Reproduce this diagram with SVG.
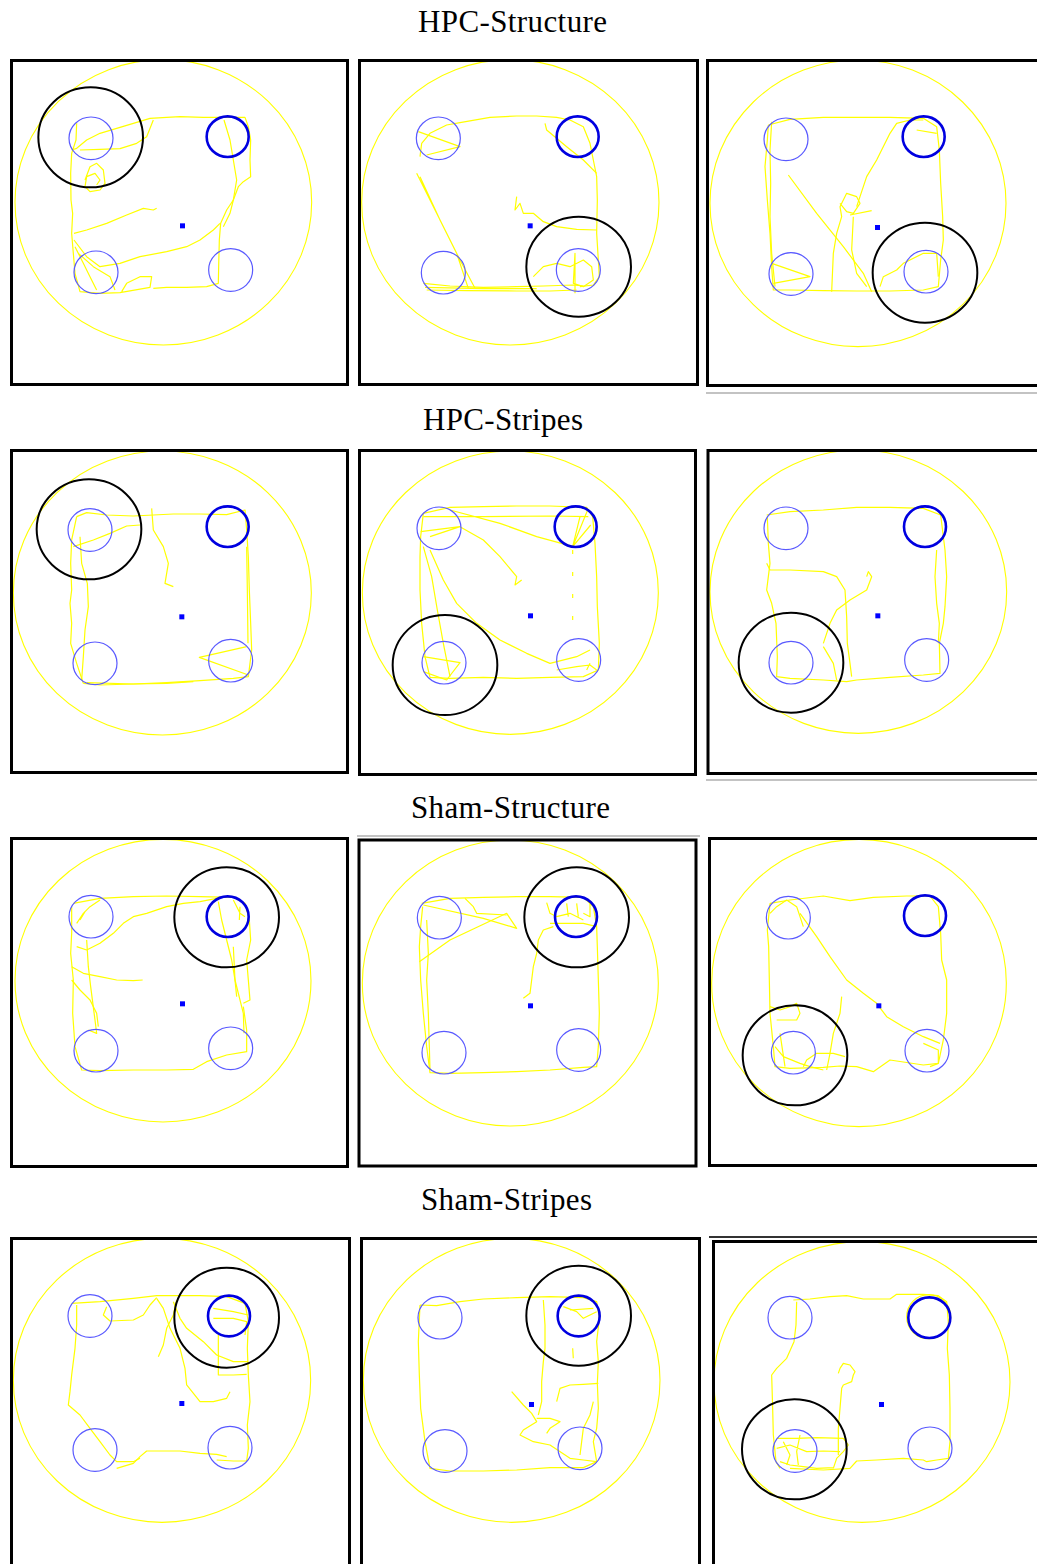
<svg xmlns="http://www.w3.org/2000/svg" width="1037" height="1564" viewBox="0 0 1037 1564">
<style>
.bg{fill:#fff}
.title{font-family:"Liberation Serif","Times New Roman",serif;font-size:31px;fill:#000}
.frame{fill:none;stroke:#000;stroke-width:3}
.edge{fill:none;stroke:#888;stroke-width:1.2}
.edge2{fill:none;stroke:#333;stroke-width:2}
.s *{vector-effect:non-scaling-stroke}
.arena{fill:none;stroke:#ffff00;stroke-width:1.1}
.trk{fill:none;stroke:#ffff00;stroke-width:1.2;stroke-linejoin:round}
.pool{fill:none;stroke:#5a5aff;stroke-width:1.2}
.goal{fill:none;stroke:#0000e0;stroke-width:2.6}
.mark{fill:none;stroke:#000;stroke-width:2}
.ctr{fill:#0000ff}
</style>
<rect class="bg" x="0" y="0" width="1037" height="1564"/>

<g id="titles">
<text class="title" x="418" y="32" textLength="189">HPC-Structure</text>
<text class="title" x="423" y="430" textLength="160">HPC-Stripes</text>
<text class="title" x="411" y="818" textLength="199">Sham-Structure</text>
<text class="title" x="421" y="1210" textLength="171">Sham-Stripes</text>
</g>

<!-- Row 1 -->
<g id="p1">
<g class="s" transform="translate(0,0) scale(0.33333)">
<ellipse class="arena" cx="490" cy="607" rx="445" ry="428"/>
<path class="trk" d="M 215 450 L 230 445 L 260 420 L 300 400 L 350 385 L 400 370 L 450 355 L 500 352 L 540 350 L 610 352 L 680 352 L 735 352 L 745 380 L 752 420 L 750 480 L 752 530 L 730 545 L 715 560 L 700 600 L 680 630 L 662 670 L 658 720 L 656 800 L 655 850 L 620 860 L 560 862 L 500 862 L 460 865"/>
<path class="trk" d="M 230 370 L 228 420 L 215 460 L 212 520 L 213 600 L 218 640 L 215 700 L 220 760 L 225 820 L 240 875 L 300 880 L 360 878 L 450 862 L 455 830 L 420 830 L 380 850 L 365 875"/>
<path class="trk" d="M 240 450 L 300 448 L 360 446 L 410 430 L 440 410 L 460 360"/>
<path class="trk" d="M 222 700 L 260 690 L 320 670 L 380 645 L 430 625 L 460 630 L 470 625"/>
<path class="trk" d="M 222 720 L 260 770 L 300 800 L 360 790 L 420 770 L 500 755 L 560 740 L 600 720 L 640 690 L 660 670"/>
<path class="trk" d="M 672 360 L 690 420 L 700 480 L 710 540 L 700 600 L 690 640 L 670 680"/>
<path class="trk" d="M 255 540 L 270 500 L 290 490 L 310 510 L 315 550 L 300 570 L 270 575 L 255 560 L 260 530 L 285 520 L 300 540 L 290 555"/>
<path class="trk" d="M 225 740 L 250 790 L 270 830 L 290 870 M 235 760 L 280 800 L 330 830 L 345 870"/>
<ellipse class="pool" cx="273" cy="415" rx="66" ry="64"/>
<ellipse class="goal" cx="683" cy="410" rx="63" ry="61"/>
<ellipse class="pool" cx="288" cy="817" rx="66" ry="64"/>
<ellipse class="pool" cx="692" cy="810" rx="66" ry="64"/>
<rect class="ctr" x="540" y="670" width="15" height="15"/>
<ellipse class="mark" cx="272" cy="412" rx="157" ry="150"/>
</g>
<rect class="frame" x="11.5" y="60.5" width="336" height="324"/>
</g>

<g id="p2">
<g class="s" transform="translate(350,0) scale(0.33333)">
<ellipse class="arena" cx="481" cy="607" rx="446" ry="428"/>
<path class="trk" d="M 210 470 L 215 430 L 240 400 L 290 375 L 330 368 L 420 352 L 500 348 L 560 348 L 620 352 L 660 360 L 700 380 L 720 430 L 730 480 L 740 530 L 742 600 L 740 700 L 745 780 L 748 830 L 730 855 L 690 860"/>
<path class="trk" d="M 205 395 L 330 440 L 230 465"/>
<path class="trk" d="M 200 520 L 260 640 L 320 760 L 355 865 M 210 530 L 270 660 L 330 780 L 375 865"/>
<path class="trk" d="M 220 850 L 300 858 L 400 862 L 500 860 L 580 858 L 670 855 L 700 858 M 230 870 L 350 872 L 500 873 L 600 873 L 680 870 M 225 862 L 400 866 L 560 866"/>
<path class="trk" d="M 500 590 L 495 630 L 510 610 L 520 640 L 550 640 L 580 665 L 620 680 L 680 688 L 740 690"/>
<path class="trk" d="M 550 830 L 580 800 L 620 790 L 660 800 L 700 780 L 725 800 L 730 840 L 700 860 L 670 850 L 675 760 L 675 880"/>
<path class="trk" d="M 585 370 L 590 390 L 650 440 L 700 480 L 740 520"/>
<ellipse class="pool" cx="265" cy="415" rx="66" ry="64"/>
<ellipse class="goal" cx="683" cy="410" rx="63" ry="61"/>
<ellipse class="pool" cx="280" cy="818" rx="66" ry="64"/>
<ellipse class="pool" cx="685" cy="810" rx="66" ry="64"/>
<rect class="ctr" x="533" y="670" width="15" height="15"/>
<ellipse class="mark" cx="686" cy="800" rx="157" ry="150"/>
</g>
<rect class="frame" x="359.5" y="60.5" width="338" height="324"/>
</g>

<g id="p3">
<g class="s" transform="translate(690,0) scale(0.33333)">
<ellipse class="arena" cx="504" cy="610" rx="444" ry="430"/>
<path class="trk" d="M 235 375 L 300 358 L 400 352 L 500 352 L 600 352 L 700 355 L 740 380 L 748 450 L 752 550 L 758 650 L 760 720 L 752 780 L 745 860 L 700 870 L 600 873 L 500 873 L 400 872 L 300 870 L 250 870 L 245 800 L 240 700 L 232 600 L 225 500 L 232 420 L 235 375"/>
<path class="trk" d="M 245 365 L 240 450 L 242 550 L 240 650 L 245 760 L 255 860"/>
<path class="trk" d="M 295 525 L 380 640 L 460 740 L 520 820 L 545 875"/>
<path class="trk" d="M 425 875 L 430 760 L 440 700 L 455 650 L 450 620 L 470 580 L 500 590 L 510 610 L 490 640 L 470 635 L 450 610 M 480 645 L 545 632 M 490 650 L 485 750 L 500 820 L 530 860"/>
<path class="trk" d="M 500 620 L 530 530 L 560 480 L 600 400 L 620 370 L 660 360 L 700 360"/>
<path class="trk" d="M 680 390 L 740 400"/>
<path class="trk" d="M 245 790 L 360 830 L 250 850"/>
<path class="trk" d="M 570 860 L 580 830 L 620 810 L 640 790 L 700 760 L 740 760 L 745 830"/>
<ellipse class="pool" cx="288" cy="418" rx="66" ry="64"/>
<ellipse class="goal" cx="701" cy="410" rx="63" ry="61"/>
<ellipse class="pool" cx="303" cy="822" rx="66" ry="64"/>
<ellipse class="pool" cx="708" cy="815" rx="66" ry="64"/>
<rect class="ctr" x="555" y="675" width="15" height="15"/>
<ellipse class="mark" cx="705" cy="818" rx="157" ry="150"/>
</g>
<rect class="frame" x="707.5" y="60.5" width="340" height="325"/>
<line class="edge" x1="706" y1="393" x2="1037" y2="393"/>
</g>

<!-- Row 2 -->
<g id="p4">
<g class="s" transform="translate(0,390) scale(0.33333)">
<ellipse class="arena" cx="487" cy="609" rx="447" ry="426"/>
<path class="trk" d="M 230 380 L 260 368 L 320 375 L 400 378 L 460 375 L 520 372 L 600 372 L 680 374 L 735 360 L 740 420 L 745 500 L 748 600 L 752 700 L 755 780 L 745 860 L 700 865 L 600 872 L 500 878 L 400 882 L 300 885 L 250 880"/>
<path class="trk" d="M 230 380 L 215 450 L 212 520 L 215 600 L 210 640 L 215 700 L 212 760 L 230 820 L 250 880"/>
<path class="trk" d="M 240 440 L 245 520 L 262 580 L 265 650 L 255 720 L 250 800 L 245 870"/>
<path class="trk" d="M 220 470 L 280 450 L 330 430 L 380 408 L 420 405"/>
<path class="trk" d="M 455 355 L 460 420 L 490 470 L 505 520 L 495 580 L 520 590"/>
<path class="trk" d="M 740 770 L 598 802 L 745 855"/>
<path class="trk" d="M 260 878 L 400 882 L 500 880 L 580 875"/>
<path class="trk" d="M 740 470 L 742 600 L 744 760"/>
<ellipse class="pool" cx="270" cy="420" rx="66" ry="64"/>
<ellipse class="goal" cx="683" cy="410" rx="63" ry="61"/>
<ellipse class="pool" cx="285" cy="820" rx="66" ry="64"/>
<ellipse class="pool" cx="692" cy="812" rx="66" ry="64"/>
<rect class="ctr" x="538" y="673" width="15" height="15"/>
<ellipse class="mark" cx="267" cy="418" rx="157" ry="150"/>
</g>
<rect class="frame" x="11.5" y="450.5" width="336" height="322"/>
</g>

<g id="p5">
<g class="s" transform="translate(350,390) scale(0.33333)">
<ellipse class="arena" cx="481" cy="608" rx="444" ry="425"/>
<path class="trk" d="M 220 370 L 300 352 L 400 350 L 500 348 L 600 348 L 710 352 L 728 380 L 735 460 L 740 560 L 742 650 L 748 760 L 745 840 L 700 860 L 600 862 L 500 865 L 400 862 L 300 865 L 240 862 L 225 800 L 215 700 L 210 600 L 210 500 L 212 440 L 220 370"/>
<path class="trk" d="M 220 380 L 400 380 L 600 378 L 715 380 M 300 360 L 450 400 L 560 440 L 670 470"/>
<path class="trk" d="M 212 425 L 330 410 L 240 440"/>
<path class="trk" d="M 330 410 L 400 450 L 450 500 L 500 560 L 495 585 L 515 570"/>
<path class="trk" d="M 240 480 L 280 570 L 320 640 L 380 700 L 450 750 L 530 790 L 600 820 L 680 800 L 720 780"/>
<path class="trk" d="M 220 470 L 245 560 L 262 660 L 280 760 L 300 860"/>
<path class="trk" d="M 220 800 L 330 818 L 290 870 L 220 845"/>
<path class="trk" d="M 668 470 L 712 362 M 668 470 L 722 405 M 668 470 L 690 380"/>
<path class="trk" d="M 668 480 L 668 700" stroke-dasharray="4 18"/>
<path class="trk" d="M 620 840 L 680 830 L 720 825 L 740 840 M 710 840 L 720 820"/>
<ellipse class="pool" cx="267" cy="415" rx="66" ry="64"/>
<ellipse class="goal" cx="677" cy="410" rx="63" ry="61"/>
<ellipse class="pool" cx="282" cy="818" rx="66" ry="64"/>
<ellipse class="pool" cx="686" cy="810" rx="66" ry="64"/>
<rect class="ctr" x="534" y="670" width="15" height="15"/>
<ellipse class="mark" cx="285" cy="825" rx="157" ry="150"/>
</g>
<rect class="frame" x="359.5" y="450.5" width="336" height="324"/>
</g>

<g id="p6">
<g class="s" transform="translate(690,390) scale(0.33333)">
<ellipse class="arena" cx="505" cy="605" rx="445" ry="425"/>
<path class="trk" d="M 230 375 L 300 365 L 400 360 L 500 352 L 600 352 L 700 355 L 752 375 L 765 480 L 770 560 L 765 650 L 760 700 L 748 760 L 750 850 L 700 855 L 600 862 L 500 870 L 470 875 L 400 870 L 300 865 L 260 860 L 262 800 L 258 700 L 245 640 L 230 600 L 240 520 L 235 460 L 232 380"/>
<path class="trk" d="M 230 520 L 240 540 L 300 540 L 400 545 L 440 560 L 465 600 L 470 680 L 472 760 L 480 820 L 485 860"/>
<path class="trk" d="M 400 760 L 420 700 L 440 660 L 480 630 L 530 600 L 545 560 L 535 545 L 530 560"/>
<path class="trk" d="M 400 770 L 430 820 L 440 870"/>
<path class="trk" d="M 740 480 L 735 560 L 740 640 L 748 700 L 745 760"/>
<ellipse class="pool" cx="288" cy="415" rx="66" ry="64"/>
<ellipse class="goal" cx="705" cy="410" rx="63" ry="61"/>
<ellipse class="pool" cx="303" cy="818" rx="66" ry="64"/>
<ellipse class="pool" cx="710" cy="810" rx="66" ry="64"/>
<rect class="ctr" x="556" y="670" width="15" height="15"/>
<ellipse class="mark" cx="303" cy="818" rx="157" ry="150"/>
</g>
<rect class="frame" x="708" y="450.5" width="340" height="323"/>
<line class="edge" x1="706" y1="780" x2="1037" y2="780"/>
</g>

<!-- Row 3 -->
<g id="p7">
<g class="s" transform="translate(0,780) scale(0.33333)">
<ellipse class="arena" cx="489" cy="602" rx="444" ry="424"/>
<path class="trk" d="M 220 370 L 300 355 L 400 350 L 500 348 L 600 350 L 700 352 L 735 370 L 748 420 L 752 480 L 740 540 L 745 600 L 750 660 L 730 670"/>
<path class="trk" d="M 215 380 L 215 460 L 212 520 L 220 600 L 218 700 L 225 800 L 245 870 L 300 872 L 400 870 L 500 870 L 580 868 L 620 845 L 680 825 L 740 815 L 740 750 L 730 680"/>
<path class="trk" d="M 215 600 L 240 630 L 270 660 L 290 700 L 295 740"/>
<path class="trk" d="M 260 480 L 265 560 L 272 620 L 285 720 L 290 760 L 265 750"/>
<path class="trk" d="M 230 430 L 250 400 L 270 380 L 300 360 M 240 420 L 255 395"/>
<path class="trk" d="M 215 560 L 250 580 L 300 590 L 350 600 L 400 602 L 428 600"/>
<path class="trk" d="M 230 500 L 260 510 L 300 490 L 340 460 L 370 430 L 400 410 L 440 400 L 500 380 L 550 370 L 600 365 L 650 355"/>
<path class="trk" d="M 655 365 L 665 420 L 680 480 L 695 540 L 705 600 L 710 650 M 700 360 L 720 400 L 735 410 M 720 380 L 718 420"/>
<path class="trk" d="M 700 500 L 705 600 L 730 700 L 732 760"/>
<ellipse class="pool" cx="273" cy="410" rx="66" ry="64"/>
<ellipse class="goal" cx="683" cy="410" rx="63" ry="61"/>
<ellipse class="pool" cx="288" cy="812" rx="66" ry="64"/>
<ellipse class="pool" cx="692" cy="805" rx="66" ry="64"/>
<rect class="ctr" x="540" y="664" width="15" height="15"/>
<ellipse class="mark" cx="680" cy="412" rx="157" ry="150"/>
</g>
<rect class="frame" x="11.5" y="838.5" width="336" height="328"/>
</g>

<g id="p8">
<g class="s" transform="translate(350,780) scale(0.33333)">
<ellipse class="arena" cx="481" cy="609" rx="444" ry="429"/>
<path class="trk" d="M 215 370 L 300 355 L 400 352 L 500 350 L 600 350 L 700 352 L 730 380 L 740 440 L 742 500 L 745 600 L 748 700 L 745 800 L 740 860 L 700 862 L 600 870 L 500 875 L 400 878 L 300 880 L 240 878 L 230 800 L 220 700 L 212 600 L 208 500 L 212 440 L 218 380"/>
<path class="trk" d="M 220 375 L 400 415 L 500 445 L 470 400 L 300 480 L 208 545"/>
<path class="trk" d="M 345 355 L 370 380 L 380 400 L 470 405"/>
<path class="trk" d="M 590 368 L 600 400 L 620 410 L 660 400 L 700 420 M 650 370 L 655 410 M 680 370 L 685 410 M 720 365 L 720 410 L 700 400"/>
<path class="trk" d="M 520 655 L 540 640 L 545 600 L 550 560 L 560 520 L 565 480 L 580 450 L 610 440"/>
<path class="trk" d="M 230 420 L 235 520 L 230 600 L 235 700 L 238 800 L 240 870"/>
<path class="trk" d="M 600 430 L 700 430 L 740 440"/>
<ellipse class="pool" cx="268" cy="413" rx="66" ry="64"/>
<ellipse class="goal" cx="678" cy="410" rx="63" ry="61"/>
<ellipse class="pool" cx="282" cy="818" rx="66" ry="64"/>
<ellipse class="pool" cx="686" cy="810" rx="66" ry="64"/>
<rect class="ctr" x="534" y="670" width="15" height="15"/>
<ellipse class="mark" cx="680" cy="412" rx="157" ry="150"/>
</g>
<rect class="frame" x="359" y="840" width="337" height="326"/>
<line class="edge" x1="357" y1="836" x2="700" y2="836"/>
</g>

<g id="p9">
<g class="s" transform="translate(690,780) scale(0.33333)">
<ellipse class="arena" cx="507" cy="609" rx="442" ry="431"/>
<path class="trk" d="M 240 370 L 300 360 L 400 348 L 480 362 L 550 352 L 650 348 L 720 348 L 745 380 L 752 460 L 755 540 L 770 600 L 770 700 L 760 780 L 745 850 L 700 855 L 600 840 L 550 875 L 500 860 L 450 858 L 400 862 L 300 865 L 255 860 L 250 800 L 240 700 L 238 600 L 236 500 L 232 450 L 240 370"/>
<path class="trk" d="M 330 400 L 380 470 L 420 530 L 470 600 L 520 640 L 560 670 L 590 710 L 640 740 L 700 770 L 750 790"/>
<path class="trk" d="M 240 680 L 270 690 L 300 680 L 320 670 L 330 700 L 320 720 L 260 720"/>
<path class="trk" d="M 255 800 L 280 830 L 330 850 L 360 860 L 400 870 M 270 760 L 285 860 M 340 860 L 350 840 L 380 820 L 430 820 L 465 830"/>
<path class="trk" d="M 455 650 L 450 700 L 430 760 L 420 820 L 410 870"/>
<path class="trk" d="M 240 400 L 260 380 L 290 360 L 320 380 L 330 410 L 340 440"/>
<path class="trk" d="M 700 790 L 745 810 L 745 850 L 720 860"/>
<ellipse class="pool" cx="295" cy="413" rx="66" ry="64"/>
<ellipse class="goal" cx="705" cy="407" rx="63" ry="61"/>
<ellipse class="pool" cx="310" cy="818" rx="66" ry="64"/>
<ellipse class="pool" cx="711" cy="812" rx="66" ry="64"/>
<rect class="ctr" x="559" y="670" width="15" height="15"/>
<ellipse class="mark" cx="315" cy="826" rx="157" ry="150"/>
</g>
<rect class="frame" x="709.5" y="838.5" width="340" height="327"/>
</g>

<!-- Row 4 -->
<g id="p10">
<g class="s" transform="translate(0,1175) scale(0.33333)">
<ellipse class="arena" cx="486" cy="616" rx="446" ry="426"/>
<path class="trk" d="M 215 385 L 300 380 L 400 370 L 470 362 L 520 362 L 600 362 L 680 365 L 735 385 L 745 440 L 742 520 L 745 600 L 750 680 L 742 750 L 745 820 L 740 858 L 700 858 L 650 855"/>
<path class="trk" d="M 230 390 L 230 450 L 225 520 L 215 600 L 210 650 L 205 690 L 240 720 L 270 760 L 300 800 L 330 840 L 350 860 L 400 860 L 420 850"/>
<path class="trk" d="M 350 880 L 400 865 L 420 845 L 440 828 L 540 828 L 600 835 L 650 838 L 680 845"/>
<path class="trk" d="M 320 395 L 310 420 L 330 438 L 400 435 L 430 420 L 450 390 L 470 368"/>
<path class="trk" d="M 470 370 L 490 400 L 510 460 L 540 520 L 555 580 L 560 630 L 600 680 L 640 680 L 680 670 L 690 650"/>
<path class="trk" d="M 530 375 L 520 420 L 500 460 L 490 510 L 475 545"/>
<path class="trk" d="M 520 380 L 540 430 L 560 460 L 610 500 L 650 540 L 700 560 L 745 560 M 655 480 L 655 600 L 700 600 L 740 598 M 640 400 L 700 410 L 745 420 M 640 430 L 700 430 L 740 440 L 735 480"/>
<ellipse class="pool" cx="270" cy="423" rx="66" ry="64"/>
<ellipse class="goal" cx="687" cy="423" rx="63" ry="61"/>
<ellipse class="pool" cx="285" cy="825" rx="66" ry="64"/>
<ellipse class="pool" cx="690" cy="818" rx="66" ry="64"/>
<rect class="ctr" x="538" y="678" width="15" height="15"/>
<ellipse class="mark" cx="680" cy="428" rx="157" ry="150"/>
</g>
<rect class="frame" x="11.5" y="1238.5" width="338" height="400"/>
</g>

<g id="p11">
<g class="s" transform="translate(350,1175) scale(0.33333)">
<ellipse class="arena" cx="485" cy="616" rx="445" ry="426"/>
<path class="trk" d="M 210 390 L 260 392 L 330 380 L 400 372 L 500 368 L 600 365 L 700 368 L 740 380 L 748 430 L 740 500 L 745 560 L 742 625 L 745 700 L 740 760 L 730 800 L 740 860 L 700 878 L 600 878 L 500 885 L 400 888 L 300 888 L 240 880 L 225 800 L 212 700 L 208 600 L 205 500 L 210 390"/>
<path class="trk" d="M 580 375 L 585 450 L 585 520 L 580 560 L 575 620 L 575 680 L 565 720 M 485 650 L 520 690 L 545 715 L 560 740 L 520 765 L 510 780 L 550 800 L 600 810 L 660 850 L 700 855 L 740 860"/>
<path class="trk" d="M 560 730 L 600 730 L 630 740 L 600 760 L 590 775 M 620 680 L 630 640 L 660 630 L 700 628 L 745 625"/>
<path class="trk" d="M 640 395 L 680 410 L 700 430 L 720 420 L 740 410 M 660 405 L 730 400"/>
<path class="trk" d="M 690 840 L 695 800 L 700 760 L 720 720 L 730 680"/>
<path class="trk" d="M 668 520 L 670 550"/>
<ellipse class="pool" cx="270" cy="428" rx="66" ry="64"/>
<ellipse class="goal" cx="686" cy="423" rx="63" ry="61"/>
<ellipse class="pool" cx="285" cy="828" rx="66" ry="64"/>
<ellipse class="pool" cx="690" cy="820" rx="66" ry="64"/>
<rect class="ctr" x="537" y="681" width="15" height="15"/>
<ellipse class="mark" cx="686" cy="422" rx="157" ry="150"/>
</g>
<rect class="frame" x="361.5" y="1238.5" width="338" height="400"/>
</g>

<g id="p12">
<g class="s" transform="translate(690,1175) scale(0.33333)">
<ellipse class="arena" cx="516" cy="621" rx="444" ry="421"/>
<path class="trk" d="M 310 375 L 360 372 L 420 365 L 470 362 L 520 372 L 600 372 L 620 358 L 700 358 L 745 362 L 770 380 L 775 440 L 772 520 L 778 600 L 780 700 L 780 800 L 775 850 L 740 855 L 710 860 L 700 855 L 640 850 L 560 855 L 500 858 L 480 880 L 400 885 L 300 880"/>
<path class="trk" d="M 320 380 L 318 450 L 312 500 L 290 550 L 260 580 L 245 600 L 248 700 L 250 780 L 258 860 L 270 880"/>
<path class="trk" d="M 445 840 L 445 760 L 450 700 L 455 640 L 460 630 L 485 620 L 490 600 L 495 590 L 480 570 L 460 565 L 450 580 L 445 595"/>
<path class="trk" d="M 260 790 L 320 790 L 380 788 L 460 790 L 475 810 L 460 830 L 440 850 L 430 880 M 260 820 L 300 810 L 350 830 L 400 828 L 450 830 M 270 860 L 300 870 L 340 875 L 380 880 L 430 878 M 280 800 L 300 840 L 290 870 M 330 780 L 320 830 L 325 870"/>
<ellipse class="trk" cx="716" cy="425" rx="66" ry="66"/>
<ellipse class="pool" cx="300" cy="428" rx="66" ry="64"/>
<ellipse class="goal" cx="718" cy="428" rx="63" ry="61"/>
<ellipse class="pool" cx="315" cy="828" rx="66" ry="64"/>
<ellipse class="pool" cx="720" cy="820" rx="66" ry="64"/>
<rect class="ctr" x="567" y="681" width="15" height="15"/>
<ellipse class="mark" cx="313" cy="823" rx="157" ry="150"/>
</g>
<rect class="frame" x="713.5" y="1241.5" width="340" height="400"/>
<line class="edge2" x1="709" y1="1237" x2="1037" y2="1237"/>
</g>
</svg>
